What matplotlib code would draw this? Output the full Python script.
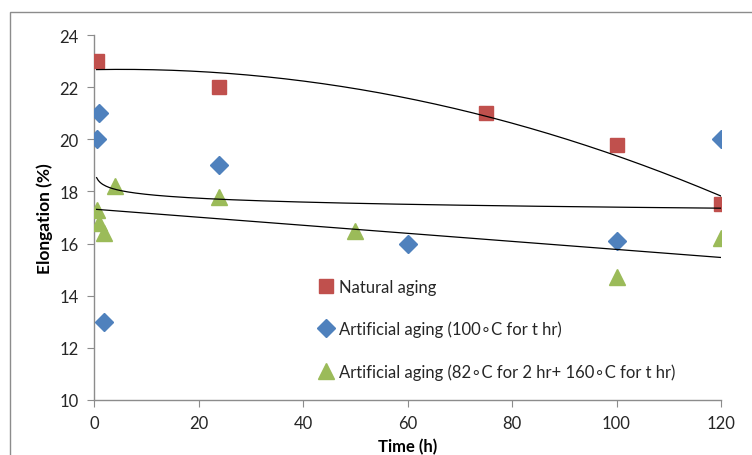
import numpy as np
import matplotlib.pyplot as plt
from matplotlib.patches import Rectangle

# natural aging (red squares)
natural_t = [0.5, 24, 75, 100, 120]
natural_el = [23, 22, 21, 19.8, 17.5]

# artificial aging 100 C (blue diamonds)
art100_t = [0.5, 1, 2, 24, 60, 100, 120]
art100_el = [20, 21, 13, 19, 16, 16.1, 20]

# artificial aging 82 C + 160 C (green triangles)
art160_t = [0.5, 1, 2, 4, 24, 50, 100, 120]
art160_el = [17.3, 16.8, 16.4, 18.2, 17.8, 16.5, 14.7, 16.2]

labels = ["Natural aging",
          "Artificial aging (100\u2218C for t hr)",
          "Artificial aging (82\u2218C for 2 hr+ 160\u2218C for t hr)"]

plt.rcParams["font.family"] = ["Lato", "DejaVu Sans"]

W, H = 752, 456
fig = plt.figure(figsize=(W / 100, H / 100), dpi=100)
ax = fig.add_axes([94 / W, 1 - 401 / H, (721 - 94) / W, (401 - 36) / H])

red, blue, green = "#C0504D", "#4F81BD", "#9BBB59"

ax.plot(natural_t, natural_el, "s", color=red, markersize=10, label=labels[0], zorder=3)
ax.plot(art100_t, art100_el, "D", color=blue, markersize=9, label=labels[1], zorder=3)
ax.plot(art160_t, art160_el, "^", color=green, markersize=11, label=labels[2], zorder=3)

# trendlines like excel: poly2 for natural, log for 100C, linear for 160C
t = np.asarray(natural_t, float)
c = np.polyfit(t, natural_el, 2)
tt = np.linspace(t.min(), t.max(), 200)
ax.plot(tt, np.polyval(c, tt), color="black", lw=0.9, zorder=4)

t = np.asarray(art100_t, float)
c = np.polyfit(np.log(t), art100_el, 1)
tt = np.linspace(t.min(), t.max(), 400)
ax.plot(tt, np.polyval(c, np.log(tt)), color="black", lw=0.9, zorder=4)

t = np.asarray(art160_t, float)
c = np.polyfit(t, art160_el, 1)
tt = np.linspace(t.min(), t.max(), 50)
ax.plot(tt, np.polyval(c, tt), color="black", lw=0.9, zorder=4)

ax.set_xlim(0, 120)
ax.set_ylim(10, 24)
ax.set_xticks(range(0, 121, 20))
ax.set_yticks(range(10, 25, 2))
for s in ["top", "right"]:
    ax.spines[s].set_visible(False)
for s in ["left", "bottom"]:
    ax.spines[s].set_color("#8c8c8c")
    ax.spines[s].set_linewidth(1)
ax.tick_params(direction="out", length=5, color="#8c8c8c", labelsize=12,
               labelcolor="#262626", pad=6)

ax.set_xlabel("Time (h)", fontsize=12, fontweight="bold")
ax.xaxis.set_label_coords(0.5, -0.105)
ax.set_ylabel("Elongation (%)", fontsize=12.5, fontweight="bold")
ax.yaxis.set_label_coords(-0.065, 0.5)

ax.legend(loc="upper left", bbox_to_anchor=(0.349, 0.35), frameon=False,
          fontsize=12, handlelength=0.8, handletextpad=0.4, labelspacing=1.55,
          borderaxespad=0, labelcolor="#262626")

# chart area border (cropped on the right and bottom)
fig.patches.append(Rectangle((10 / W, -0.1), 1.0, 1.1 - 13 / H,
                             transform=fig.transFigure, fill=False,
                             edgecolor="#8c8c8c", lw=1))

fig.savefig("out.png", dpi=100)
